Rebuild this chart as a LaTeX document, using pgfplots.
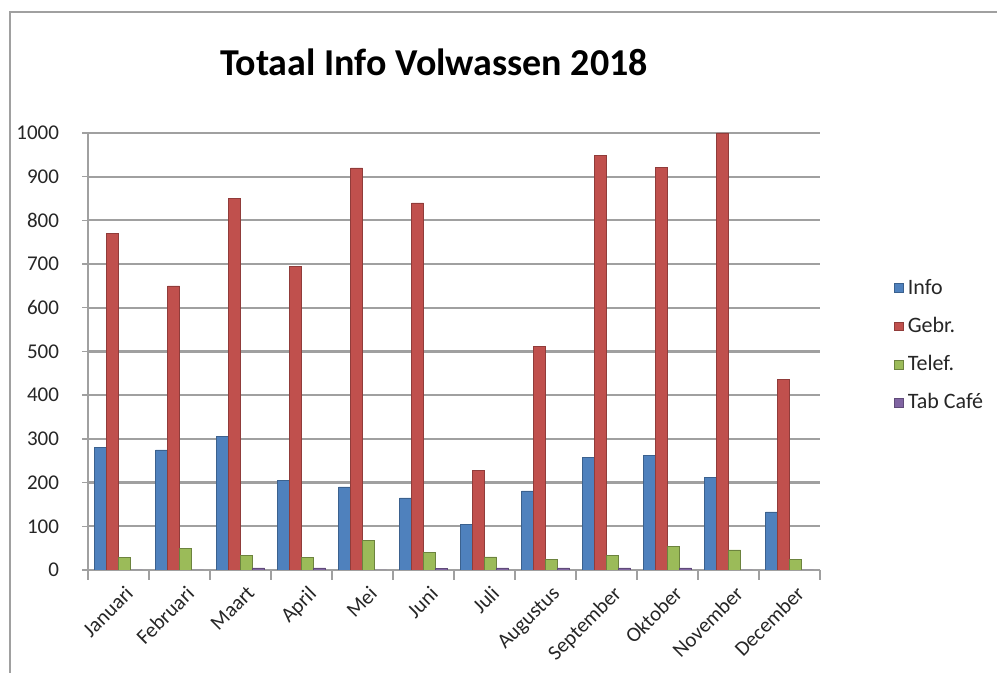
\documentclass[border=0pt]{standalone}
\usepackage{fontspec}
\setmainfont{Carlito}
\usepackage{pgfplots}
\pgfplotsset{compat=1.18}

\definecolor{cinfo}{HTML}{4F81BD}
\definecolor{cgebr}{HTML}{C0504D}
\definecolor{ctelef}{HTML}{9BBB59}
\definecolor{ctab}{HTML}{8064A2}
\definecolor{gridgray}{HTML}{A0A0A0}

\begin{document}
\begin{tikzpicture}
\path[use as bounding box] (0,0) rectangle (498.5pt,336.5pt);
% chart frame (only top and left edges are visible in the crop)
\draw[gridgray, line width=0.7pt] (5pt,-2pt) -- (5pt,330.5pt) -- (501pt,330.5pt);
\node[font=\fontsize{19}{22}\selectfont\bfseries] at (217pt,305.5pt) {Totaal Info Volwassen 2018};
\begin{axis}[
    at={(44pt,51.5pt)}, anchor=south west,
    scale only axis,
    width=366pt, height=218.5pt,
    ybar=0pt, bar width=6pt,
    xmin=-0.5, xmax=11.5,
    ymin=0, ymax=1000,
    ytick={0,100,...,1000},
    xtick={0,...,11},
    xticklabels={Januari,Februari,Maart,April,Mei,Juni,Juli,Augustus,September,Oktober,November,December},
    minor xtick={-0.5,0.5,...,11.5},
    major x tick style={draw=none},
    minor x tick style={gridgray, line width=0.7pt},
    tick align=outside,
    minor tick length=5pt,
    major tick length=3pt,
    y tick style={gridgray, line width=0.7pt},
    axis x line*=bottom, axis y line*=left,
    axis line style={gridgray, line width=0.7pt, -},
    ymajorgrids, grid style={gridgray, line width=1.1pt},
    tick label style={font=\fontsize{10.5}{12}\selectfont, text=black!85},
    x tick label style={rotate=45, anchor=north east, inner sep=1pt, yshift=-4pt},
    yticklabel style={xshift=-8pt},
    /pgf/number format/assume math mode=true,
    /pgf/number format/1000 sep={},
    legend style={at={(1,0.5)}, anchor=west, xshift=34pt, yshift=3pt, draw=none,
        font=\fontsize{11}{13}\selectfont, row sep=6pt, text=black!85,
        /tikz/every even column/.append style={column sep=2pt}},
    legend cell align=left,
    legend image code/.code={\fill[#1] (0pt,-2.2pt) rectangle (4.4pt,2.2pt);},
]
\addplot[fill=cinfo, draw=cinfo!75!black, line width=0.3pt] coordinates {
    (0,280) (1,275) (2,305) (3,205) (4,190) (5,165)
    (6,104) (7,181) (8,258) (9,262) (10,212) (11,133)
};
\addplot[fill=cgebr, draw=cgebr!75!black, line width=0.3pt] coordinates {
    (0,770) (1,650) (2,850) (3,695) (4,920) (5,840)
    (6,228) (7,512) (8,948) (9,922) (10,1000) (11,437)
};
\addplot[fill=ctelef, draw=ctelef!70!black, line width=0.3pt] coordinates {
    (0,28) (1,50) (2,33) (3,28) (4,68) (5,40)
    (6,30) (7,25) (8,34) (9,54) (10,46) (11,25)
};
\addplot[fill=ctab, draw=ctab!75!black, line width=0.3pt] coordinates {
    (0,0) (1,0) (2,5) (3,5) (4,0) (5,3)
    (6,5) (7,5) (8,5) (9,5) (10,0) (11,0)
};
\legend{Info,Gebr.,Telef.,Tab Café}
\end{axis}
\end{tikzpicture}
\end{document}
